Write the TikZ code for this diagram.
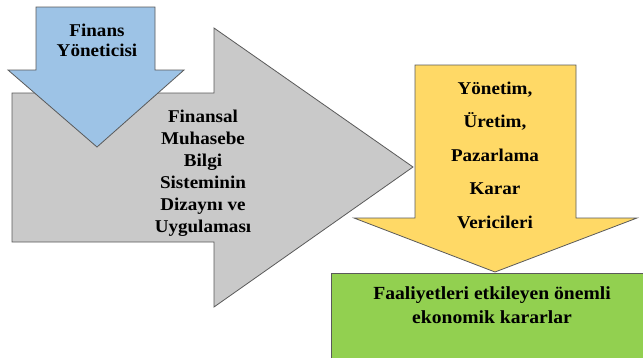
\documentclass[tikz,border=0pt]{standalone}
\usepackage{fontspec}
\setmainfont{LiberationSerif}[Extension=.ttf,UprightFont=*-Regular,BoldFont=*-Bold,FakeStretch=1.06]
\definecolor{bluefill}{HTML}{9DC3E6}
\definecolor{grayfill}{HTML}{C9C9C9}
\definecolor{yellowfill}{HTML}{FFD966}
\definecolor{greenfill}{HTML}{92D050}
\definecolor{edge}{HTML}{5A5A5A}
\begin{document}
\begin{tikzpicture}[x=1pt,y=-1pt,
  shapeline/.style={draw=edge,line width=0.8pt,line join=miter},
  label/.style={font=\rmfamily\bfseries\fontsize{18}{22}\selectfont,align=center,text=black,inner sep=0pt}]
\useasboundingbox (0,0) rectangle (643,357);

% grey arrow pointing right
\draw[shapeline,fill=grayfill]
  (12,93) -- (214,93) -- (214,28) -- (413,167) -- (214,307) -- (214,242) -- (12,242) -- cycle;

% blue arrow pointing down
\draw[shapeline,fill=bluefill]
  (36,7) -- (155,7) -- (155,70) -- (184,70) -- (97,147) -- (8,70) -- (36,70) -- cycle;

% yellow arrow pointing down
\draw[shapeline,fill=yellowfill]
  (415,65) -- (576,65) -- (576,218) -- (637,218) -- (495,272) -- (354,218) -- (415,218) -- cycle;

% green result box
\draw[shapeline,fill=greenfill] (331,273) rectangle (650,365);

\node[label,font=\rmfamily\bfseries\fontsize{18}{20}\selectfont] (manager) at (97,40) {Finans\\Yöneticisi};

\node[label] (system) at (203,173) {Finansal\\Muhasebe\\Bilgi\\Sisteminin\\Dizaynı ve\\Uygulaması};

\node[label,font=\rmfamily\bfseries\fontsize{18}{33.5}\selectfont] (deciders) at (495,155)
  {Yönetim,\\Üretim,\\Pazarlama\\Karar\\Vericileri};

\node[label,font=\rmfamily\bfseries\fontsize{18.5}{24}\selectfont] (decisions) at (492,305)
  {Faaliyetleri etkileyen önemli\\ekonomik kararlar};
\end{tikzpicture}
\end{document}
